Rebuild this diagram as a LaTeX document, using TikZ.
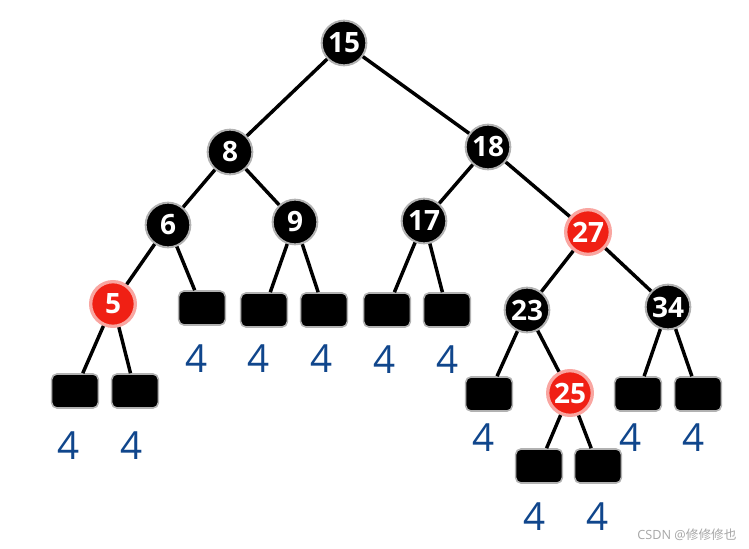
\documentclass[tikz,border=0pt]{standalone}
\usepackage{fontspec}
\setmainfont{Open Sans}
\newfontfamily\cjk{Noto Sans CJK SC}

\definecolor{nodered}{RGB}{240,32,20}
\definecolor{labelblue}{RGB}{16,70,140}

\tikzset{every picture/.style={line width=0.75pt}}
\tikzset{
  blacknode/.style={circle,fill=black,draw=black!30,line width=1.5pt,minimum size=33.5pt,inner sep=0pt,text=white,font=\fontsize{21}{21}\selectfont\bfseries},
  rednode/.style={blacknode,fill=nodered,draw=nodered!40,line width=2.5pt},
  leafbox/.style={rectangle,rounded corners=4pt,fill=black,draw=black!30,line width=1.2pt,minimum width=35pt,minimum height=25.5pt,inner sep=0pt},
  leaflabel/.style={text=labelblue,inner sep=0pt,font=\fontsize{29}{29}\selectfont},
  edge/.style={line width=2.6pt,black}
}

\begin{document}
\begin{tikzpicture}[x=0.75pt,y=0.75pt,yscale=-1,xscale=1]
\useasboundingbox (0,0) rectangle (749,549);

% Circle Nodes
\node [blacknode] (n15) at (344,43) {15};
\node [blacknode] (n8) at (230,152) {8};
\node [blacknode] (n18) at (488,147) {18};
\node [blacknode] (n6) at (168,225) {6};
\node [blacknode] (n9) at (295,222) {9};
\node [blacknode] (n17) at (424,221) {17};
\node [rednode] (n27) at (588,232) {27};
\node [rednode] (n5) at (113,304) {5};
\node [blacknode] (n23) at (527,310) {23};
\node [blacknode] (n34) at (668,307) {34};
\node [rednode] (n25) at (570,393) {25};

% Leaf Nodes
\node [leafbox] (l6) at (202,308) {};
\node [leafbox] (l9a) at (264,310) {};
\node [leafbox] (l9b) at (324,310) {};
\node [leafbox] (l17a) at (387,310) {};
\node [leafbox] (l17b) at (447,310) {};
\node [leafbox] (l5a) at (75,391) {};
\node [leafbox] (l5b) at (135,391) {};
\node [leafbox] (l23) at (489,394) {};
\node [leafbox] (l25a) at (539,466) {};
\node [leafbox] (l25b) at (598,466) {};
\node [leafbox] (l34a) at (638,394) {};
\node [leafbox] (l34b) at (698,394) {};

%Straight Lines
\draw [edge] (n15) -- (n8);
\draw [edge] (n15) -- (n18);
\draw [edge] (n8) -- (n6);
\draw [edge] (n8) -- (n9);
\draw [edge] (n18) -- (n17);
\draw [edge] (n18) -- (n27);
\draw [edge] (n6) -- (n5);
\draw [edge] (n6) -- (l6);
\draw [edge] (n9) -- (l9a);
\draw [edge] (n9) -- (l9b);
\draw [edge] (n17) -- (l17a);
\draw [edge] (n17) -- (l17b);
\draw [edge] (n27) -- (n23);
\draw [edge] (n27) -- (n34);
\draw [edge] (n5) -- (l5a);
\draw [edge] (n5) -- (l5b);
\draw [edge] (n23) -- (l23);
\draw [edge] (n23) -- (n25);
\draw [edge] (n25) -- (l25a);
\draw [edge] (n25) -- (l25b);
\draw [edge] (n34) -- (l34a);
\draw [edge] (n34) -- (l34b);

% Text Node
\node [leaflabel] (t6) at (197,359) {4};
\node [leaflabel] (t9a) at (259,359) {4};
\node [leaflabel] (t9b) at (322,359) {4};
\node [leaflabel] (t17a) at (385,360) {4};
\node [leaflabel] (t17b) at (448,360) {4};
\node [leaflabel] (t5a) at (69,446) {4};
\node [leaflabel] (t5b) at (132,446) {4};
\node [leaflabel] (t23) at (484,438) {4};
\node [leaflabel] (t25a) at (535,517) {4};
\node [leaflabel] (t25b) at (598,517) {4};
\node [leaflabel] (t34a) at (631,438) {4};
\node [leaflabel] (t34b) at (694,438) {4};
% Text Node
\node [anchor=east,inner sep=0pt,text=black!35,font=\fontsize{9.5}{10}\selectfont] (mark) at (737,535) {CSDN @{\cjk 修修修也}};

\end{tikzpicture}
\end{document}
